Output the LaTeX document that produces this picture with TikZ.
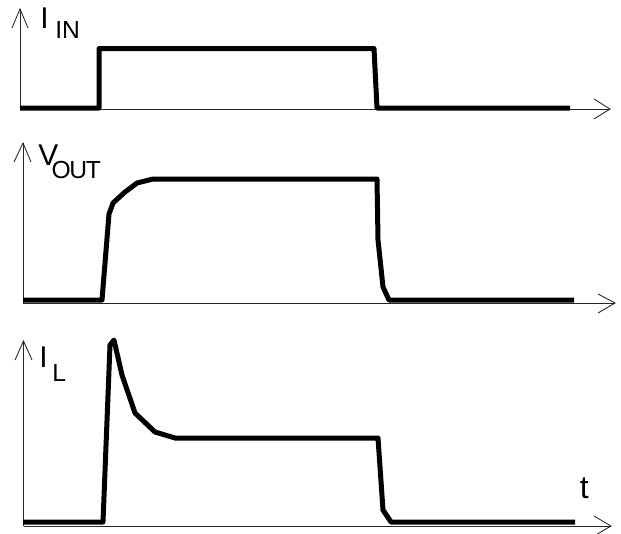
\documentclass[tikz,border=0pt]{standalone}
\usepackage{fontspec}
\setmainfont{Liberation Sans}
\tikzset{
  x=0.75pt,y=-0.75pt,
  axisline/.style={draw=black!85,line width=0.65pt,line join=miter},
  wave/.style={draw=black,line width=3.75pt,line join=round,line cap=butt},
  big/.style={inner sep=0pt,anchor=base west,font=\fontsize{22.5}{22.5}\selectfont},
  small/.style={inner sep=0pt,anchor=base west,font=\fontsize{18.5}{18.5}\selectfont}
}
\begin{document}
\begin{tikzpicture}
\path[fill=white,use as bounding box] (0,0) rectangle (621,533);
\clip (0,0) rectangle (621,533);
% panel 1
\draw[axisline] (20,109) -- (20,9);
\draw[axisline] (12,28) -- (20,9) -- (28,28);
\draw[axisline] (20,109) -- (610,109);
\draw[axisline] (594,99) -- (610,109) -- (594,119);
\draw[wave] (20,108) -- (99,108) -- (99,48.5) -- (374,48.5) -- (377,108) -- (570,108);
\node[big] (iin) at (40,28.5) {I};
\node[small] (iinsub) at (55,38) {IN};
% panel 2
\draw[axisline] (23,303) -- (23,143);
\draw[axisline] (14,162) -- (23,143) -- (31,162);
\draw[axisline] (23,303) -- (615,303);
\draw[axisline] (598,294) -- (615,303) -- (598,313);
\draw[wave] (23,300) -- (102,300) -- (109,214) -- (113,203) -- (125,192) -- (137,183) -- (153,179) -- (377,179) -- (378,240) -- (383,287) -- (389,300) -- (574,300);
\node[big] (vout) at (38,165) {V};
\node[small] (voutsub) at (52,178) {\kern-0.5pt O\kern-1pt U\kern-1pt T};
% panel 3
\draw[axisline] (23.5,526) -- (23.5,341);
\draw[axisline] (15,360) -- (23.5,341) -- (32,360);
\draw[axisline] (23.5,526) -- (611,526);
\draw[axisline] (594,516) -- (611,526) -- (594,536);
\draw[wave] (23,522) -- (103,522) -- (110,345) -- (114,340) -- (122,375) -- (135,413) -- (155,432) -- (175,438) -- (378,438) -- (383,510) -- (391,522) -- (575,522);
\node[big] (il) at (39,367) {I};
\node[small] (ilsub) at (52,381) {L};
\node[inner sep=0pt,anchor=base west,font=\fontsize{24}{24}\selectfont] (t) at (579.5,498) {t};
\end{tikzpicture}
\end{document}
